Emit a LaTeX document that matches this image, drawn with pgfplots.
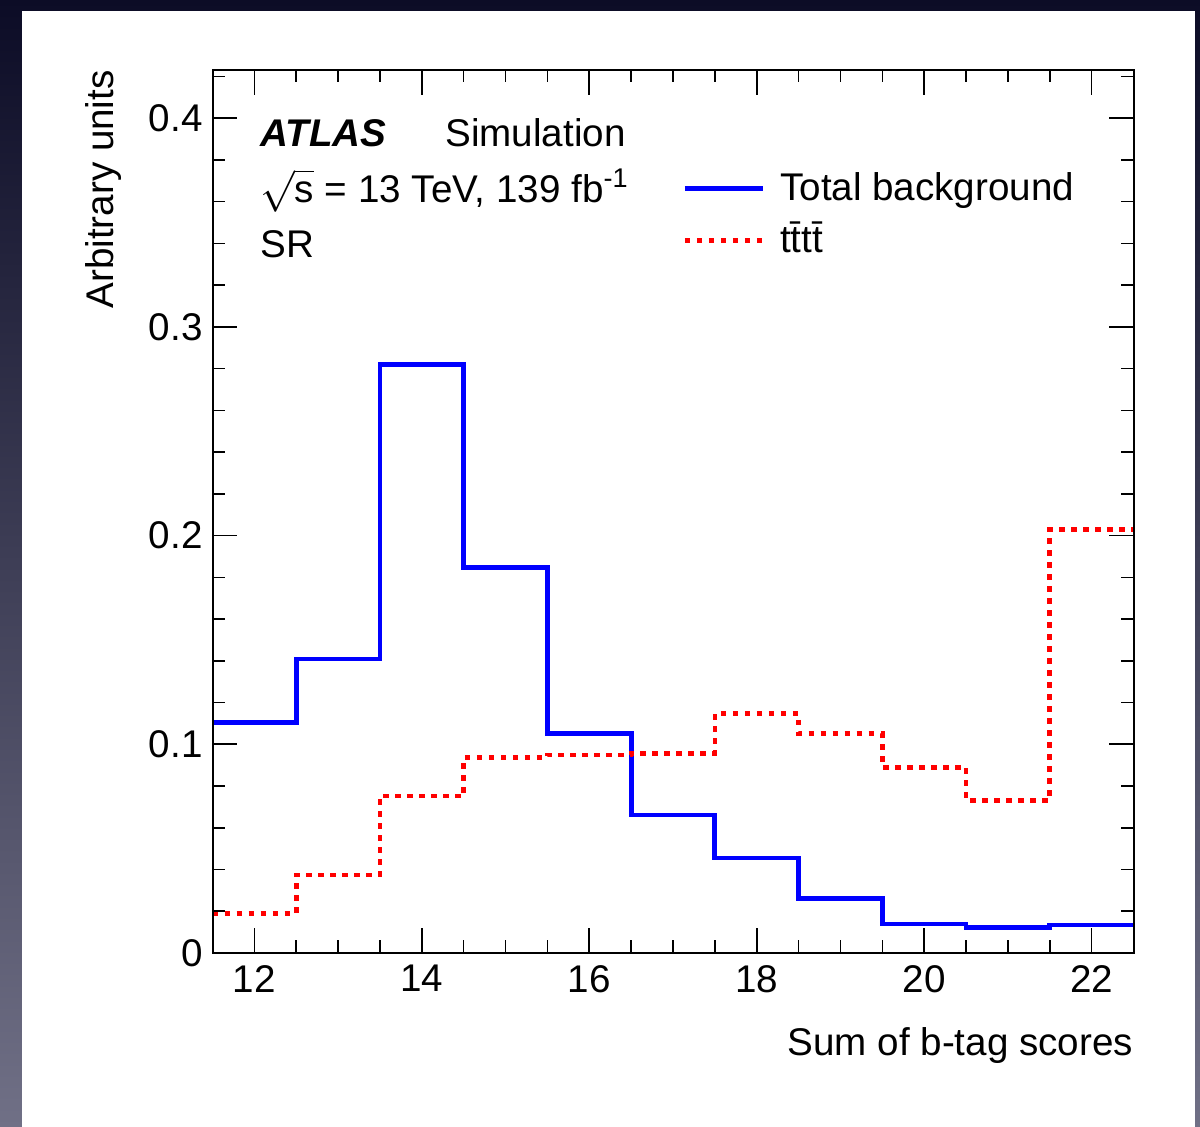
\documentclass[border=0pt]{standalone}
\usepackage{pgfplots}
\pgfplotsset{compat=1.18}
\usepackage{fontspec}
\setmainfont{Liberation Sans}

\definecolor{frametop}{RGB}{12,12,38}
\definecolor{framebot}{RGB}{112,112,134}
\definecolor{rootblue}{RGB}{0,0,255}
\definecolor{rootred}{RGB}{255,0,0}

% bin contents, bins of unit width centred on 12, 13, ..., 22
\pgfplotstableread{
x    bkg     tttt
11.5 0.1104  0.0190
12.5 0.1409  0.0374
13.5 0.2821  0.0752
14.5 0.1846  0.0936
15.5 0.1053  0.0949
16.5 0.0661  0.0957
17.5 0.0455  0.1147
18.5 0.0262  0.1051
19.5 0.0139  0.0890
20.5 0.0123  0.0732
21.5 0.0134  0.2030
22.5 0.0134  0.2030
}\histdata

\begin{document}
\begin{tikzpicture}[font=\fontsize{19.3pt}{23pt}\selectfont]
\useasboundingbox (0,0) rectangle (600pt,563.5pt);
\shade[top color=frametop, bottom color=framebot] (0,0) rectangle (600pt,563.5pt);
\fill[white] (11pt,0) rectangle (597.5pt,558pt);
\begin{axis}[
  at={(106.25pt,87pt)}, anchor=south west,
  scale only axis, width=460.5pt, height=441.5pt,
  xmin=11.5, xmax=22.5, ymin=0, ymax=0.4231,
  xtick={12,14,16,18,20,22},
  minor xtick={12.5,13,...,22},
  ytick={0,0.1,0.2,0.3,0.4},
  yticklabels={0,0.1,0.2,0.3,0.4},
  minor ytick={0.02,0.04,0.06,0.08,0.12,0.14,0.16,0.18,0.22,0.24,0.26,0.28,0.32,0.34,0.36,0.38,0.42},
  tick align=inside, tick pos=both,
  major tick length=12.5pt, minor tick length=6.25pt,
  every tick/.style={black, line width=0.8pt},
  axis line style={black, line width=1pt},
  axis on top,
  /pgf/number format/assume math mode=true,
  xticklabel style={anchor=north, inner sep=0pt, yshift=-6pt},
  yticklabel style={anchor=east, inner sep=0pt, xshift=-4.75pt},
  xlabel={Sum of b-tag scores},
  ylabel={Arbitrary units},
  xlabel style={at={(axis description cs:1,-0.1166)}, anchor=base east, inner sep=0pt},
  ylabel style={at={(axis description cs:-0.108,1)}, anchor=base east, inner sep=0pt},
  legend image code/.code={\draw[#1] (0pt,1pt) -- (39pt,1pt);},
  legend cell align=left,
  legend style={at={(axis description cs:0.5098,0.8845)}, anchor=north west,
    draw=none, fill=none, inner sep=0pt, row sep=8pt,
    nodes={inner sep=0pt, text height=14pt, text depth=4pt},
    /tikz/every odd column/.append style={column sep=7.5pt}},
]
\addplot[const plot mark left, rootblue, line width=2.4pt]
  table[x=x, y=bkg] {\histdata};
\addlegendentry{Total background}
\addplot[const plot mark left, rootred, line width=2.3pt, dash pattern=on 2.8pt off 3.2pt]
  table[x=x, y=tttt] {\histdata};
\addlegendentry{t\={t}t\={t}}

\node[anchor=base west, inner sep=0pt, font=\fontsize{19.3pt}{23pt}\selectfont\bfseries\itshape]
  at (axis description cs:0.0516,0.9128) {ATLAS};
\node[anchor=base west, inner sep=0pt] at (axis description cs:0.2524,0.9128) {Simulation};
\node[anchor=base west, inner sep=0pt] at (axis description cs:0.0516,0.8494)
  {$\sqrt{\mbox{s}}$ = 13 TeV, 139 fb\textsuperscript{-1}};
\node[anchor=base west, inner sep=0pt] at (axis description cs:0.0516,0.7882) {SR};
\end{axis}
\end{tikzpicture}
\end{document}
